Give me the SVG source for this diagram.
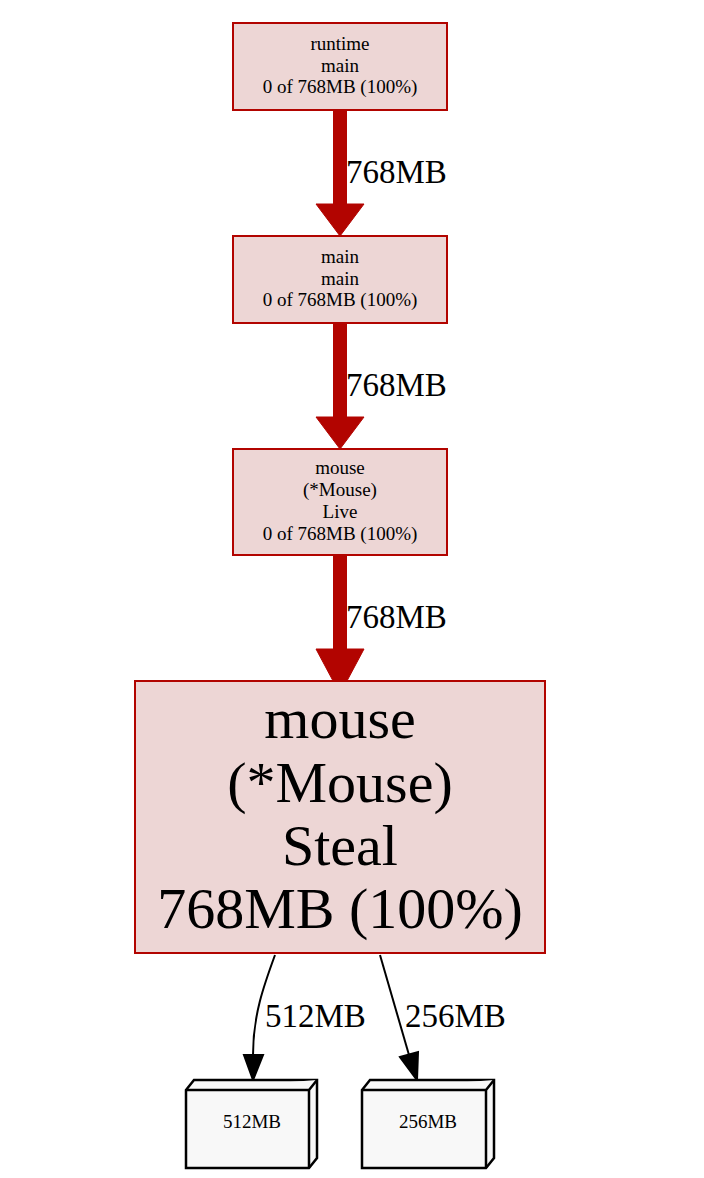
<svg xmlns="http://www.w3.org/2000/svg" width="704" height="1178" viewBox="0 0 704 1178">
<style>
  .n rect.b { fill: #edd6d5; stroke: #b20400; stroke-width: 2; }
  .t { font-family: "Liberation Serif", "Times New Roman", serif; text-anchor: middle; fill: #000; }
  .s { font-size: 19px; }
  .big { font-size: 58px; }
  .lbl { font-family: "Liberation Serif", "Times New Roman", serif; font-size: 33px; fill: #000; }
  .hot { stroke: #b20400; stroke-width: 14; fill: none; }
  .head { fill: #b20400; stroke: #b20400; }
  .thin { stroke: #000; stroke-width: 2; fill: none; }
  .bx { fill: #f8f8f8; stroke: #000; stroke-width: 2.5; stroke-linejoin: miter; }
</style>
<rect width="704" height="1178" fill="#ffffff"/>
<g id="edges">
  <path class="hot" d="M340,110 L340,205"/>
  <polygon class="head" points="316,204 364,204 340,236"/>
  <text class="lbl" x="346" y="183">768MB</text>
  <path class="hot" d="M340,323 L340,418"/>
  <polygon class="head" points="316,417 364,417 340,449"/>
  <text class="lbl" x="346" y="396">768MB</text>
  <path class="hot" d="M340,555 L340,650"/>
  <polygon class="head" points="316,649 364,649 340,694"/>
  <text class="lbl" x="346" y="628">768MB</text>
  <path class="thin" d="M275,955 C264,985 253,1015 253,1055"/>
  <polygon points="244,1055 263,1055 253,1080" fill="#000" stroke="#000" stroke-width="2"/>
  <text class="lbl" x="265" y="1027">512MB</text>
  <path class="thin" d="M380,955 L409,1055"/>
  <polygon points="400,1057 418,1052 417,1080" fill="#000" stroke="#000" stroke-width="2"/>
  <text class="lbl" x="405" y="1027">256MB</text>
</g>
<g id="node1" class="n">
  <rect class="b" x="233" y="23" width="214" height="87"/>
  <text class="t s" x="340" y="50">runtime</text>
  <text class="t s" x="340" y="72">main</text>
  <text class="t s" x="340" y="93">0 of 768MB (100%)</text>
</g>
<g id="node2" class="n">
  <rect class="b" x="233" y="236" width="214" height="87"/>
  <text class="t s" x="340" y="263">main</text>
  <text class="t s" x="340" y="285">main</text>
  <text class="t s" x="340" y="306">0 of 768MB (100%)</text>
</g>
<g id="node3" class="n">
  <rect class="b" x="233" y="449" width="214" height="106"/>
  <text class="t s" x="340" y="474">mouse</text>
  <text class="t s" x="340" y="496">(*Mouse)</text>
  <text class="t s" x="340" y="518">Live</text>
  <text class="t s" x="340" y="540">0 of 768MB (100%)</text>
</g>
<g id="node4" class="n">
  <rect class="b" x="135" y="681" width="410" height="272"/>
  <text class="t big" x="340" y="738">mouse</text>
  <text class="t big" x="340" y="802">(*Mouse)</text>
  <text class="t big" x="340" y="865">Steal</text>
  <text class="t big" x="340" y="928">768MB (100%)</text>
</g>
<g id="node5">
  <polygon class="bx" points="186,1090 194,1080 317,1080 317,1158 309,1168 186,1168"/>
  <path class="bx" d="M186,1090 L309,1090 L317,1080 M309,1090 L309,1168" fill="none"/>
  <text class="t" x="252" y="1128" font-size="19">512MB</text>
</g>
<g id="node6">
  <polygon class="bx" points="362,1090 370,1080 494,1080 494,1158 486,1168 362,1168"/>
  <path class="bx" d="M362,1090 L486,1090 L494,1080 M486,1090 L486,1168" fill="none"/>
  <text class="t" x="428" y="1128" font-size="19">256MB</text>
</g>
</svg>
